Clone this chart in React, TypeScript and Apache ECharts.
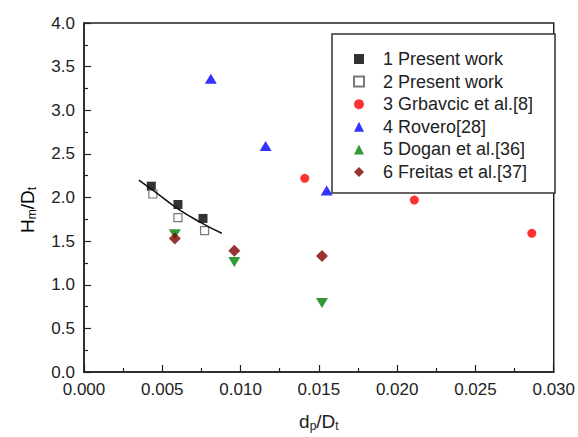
import React, { useEffect, useRef } from "react";
import * as echarts from "echarts";

const seriesNames = [
  "1 Present work",
  "2 Present work",
  "3 Grbavcic et al.[8]",
  "4 Rovero[28]",
  "5 Dogan et al.[36]",
  "6 Freitas et al.[37]",
];

const present1: [number, number][] = [
  [0.0043, 2.13],
  [0.006, 1.92],
  [0.0076, 1.76],
];
const present2: [number, number][] = [
  [0.0044, 2.04],
  [0.006, 1.77],
  [0.0077, 1.62],
];
const grbavcic: [number, number][] = [
  [0.0141, 2.22],
  [0.0211, 1.97],
  [0.0286, 1.59],
];
const rovero: [number, number][] = [
  [0.0081, 3.36],
  [0.0116, 2.59],
  [0.0155, 2.08],
];
const dogan: [number, number][] = [
  [0.0058, 1.58],
  [0.0096, 1.26],
  [0.0152, 0.79],
];
const freitas: [number, number][] = [
  [0.0058, 1.53],
  [0.0096, 1.39],
  [0.0152, 1.33],
];
const fitCurve: [number, number][] = [
  [0.0035, 2.2],
  [0.0045, 2.07],
  [0.006, 1.87],
  [0.0075, 1.71],
  [0.0088, 1.59],
];

const FONT = "Liberation Sans, Arial, sans-serif";

const nameRich = {
  a: { fontSize: 19, fontFamily: FONT, color: "#222" },
  s: { fontSize: 12, fontFamily: FONT, color: "#222", padding: [10, 0, 0, 0] },
};

export default function App() {
  const ref = useRef<HTMLDivElement>(null);
  useEffect(() => {
    if (!ref.current) return;
    const chart = echarts.init(ref.current, null, { renderer: "svg" });
    const base = { type: "scatter", z: 2 };
    chart.setOption({
      animation: false,
      backgroundColor: "#fff",
      textStyle: { fontFamily: FONT },
      grid: {
        left: 84,
        right: 15,
        top: 23,
        bottom: 57,
        show: true,
        borderColor: "#222",
        borderWidth: 1.5,
        backgroundColor: "transparent",
      },
      xAxis: {
        type: "value",
        min: 0,
        max: 0.03,
        interval: 0.005,
        name: "{a|d}{s|p}{a|/D}{s|t}",
        nameLocation: "middle",
        nameGap: 38,
        nameTextStyle: { rich: nameRich },
        axisLine: { onZero: false, lineStyle: { color: "#222", width: 1.5 } },
        axisTick: { inside: true, length: 7, lineStyle: { color: "#222", width: 1.2 } },
        minorTick: { show: true, splitNumber: 2, length: 4, lineStyle: { color: "#222", width: 1.2 } },
        splitLine: { show: false },
        axisLabel: {
          margin: 9,
          fontSize: 17,
          color: "#222",
          fontFamily: FONT,
          formatter: (v: number) => v.toFixed(3),
        },
      },
      yAxis: {
        type: "value",
        min: 0,
        max: 4,
        interval: 0.5,
        axisLine: { onZero: false, lineStyle: { color: "#222", width: 1.5 } },
        axisTick: { inside: true, length: 7, lineStyle: { color: "#222", width: 1.2 } },
        minorTick: { show: true, splitNumber: 2, length: 4, lineStyle: { color: "#222", width: 1.2 } },
        splitLine: { show: false },
        axisLabel: {
          margin: 9,
          fontSize: 17,
          color: "#222",
          fontFamily: FONT,
          formatter: (v: number) => v.toFixed(1),
        },
      },
      legend: {
        data: seriesNames,
        orient: "vertical",
        left: 332,
        top: 34,
        padding: [16, 0, 0, 21],
        itemWidth: 10,
        itemHeight: 10,
        itemGap: 4.6,
        z: 5,
        textStyle: {
          fontSize: 18,
          lineHeight: 18,
          fontFamily: FONT,
          color: "#222",
          padding: [0, 0, 0, 14],
        },
      },
      graphic: [
        {
          type: "rect",
          z: 4,
          shape: { x: 332, y: 34, width: 223, height: 159 },
          style: { fill: "#fff", stroke: "#333", lineWidth: 1.5 },
        },
        {
          type: "text",
          x: 27,
          y: 210,
          rotation: Math.PI / 2,
          style: {
            text: "{a|H}{s|m}{a|/D}{s|t}",
            rich: nameRich,
            align: "center",
            verticalAlign: "middle",
          },
        },
      ],
      series: [
        {
          ...base,
          name: seriesNames[0],
          data: present1,
          symbol: "rect",
          symbolSize: 9,
          itemStyle: { color: "#000" },
        },
        {
          ...base,
          name: seriesNames[1],
          data: present2,
          symbol: "rect",
          symbolSize: 8,
          itemStyle: { color: "#fff", borderColor: "#555", borderWidth: 1.2 },
        },
        {
          ...base,
          name: seriesNames[2],
          data: grbavcic,
          symbol: "circle",
          symbolSize: 9,
          itemStyle: { color: "#ff0000" },
        },
        {
          ...base,
          name: seriesNames[3],
          data: rovero,
          symbol: "triangle",
          symbolSize: [12, 10],
          itemStyle: { color: "#0000ff" },
        },
        {
          ...base,
          name: seriesNames[4],
          data: dogan,
          symbol: "triangle",
          symbolRotate: 180,
          symbolSize: [12, 10],
          itemStyle: { color: "#008000" },
        },
        {
          ...base,
          name: seriesNames[5],
          data: freitas,
          symbol: "diamond",
          symbolSize: 12,
          itemStyle: { color: "#800000" },
        },
        {
          type: "line",
          name: "fit",
          data: fitCurve,
          smooth: true,
          showSymbol: false,
          symbol: "none",
          z: 3,
          lineStyle: { color: "#111", width: 1.5 },
        },
      ],
    });
    return () => chart.dispose();
  }, []);
  return <div ref={ref} style={{ width: 578, height: 437, position: "absolute", left: 0, top: 0 }} />;
}
